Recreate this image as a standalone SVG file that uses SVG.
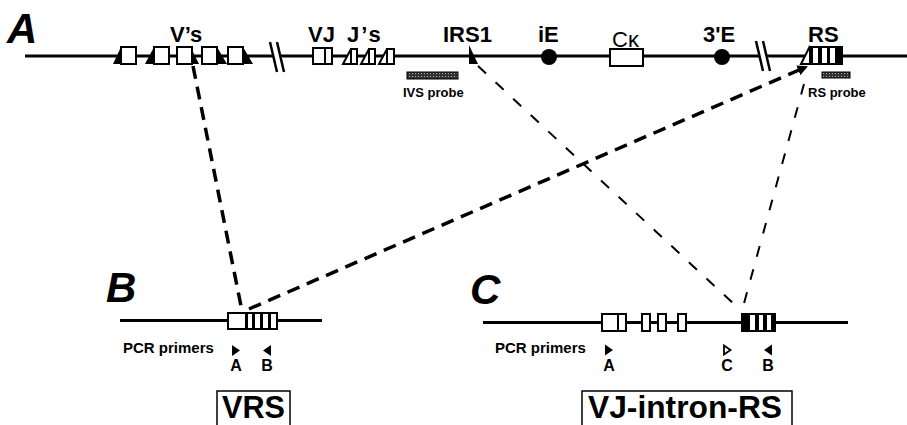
<svg xmlns="http://www.w3.org/2000/svg" width="907" height="425" viewBox="0 0 907 425">
<defs>
<pattern id="hatch" width="3" height="3" patternUnits="userSpaceOnUse">
<rect width="3" height="3" fill="#333"/>
<rect x="1" y="1" width="1" height="1" fill="#aaa"/>
</pattern>
<marker id="arr" viewBox="0 0 10 10" refX="8" refY="5" markerWidth="3" markerHeight="3" orient="auto">
<path d="M0,0 L10,5 L0,10 z" fill="#000"/>
</marker>
</defs>
<style>
text{font-family:"Liberation Sans",Arial,sans-serif;fill:#000}
.big{font-size:42px;font-weight:bold;font-style:italic}
.lab{font-size:22px;font-weight:bold}
.probe{font-size:13px;font-weight:bold}
.pcr{font-size:15px;font-weight:bold}
.pl{font-size:16px;font-weight:bold;text-anchor:middle}
.title{font-size:32px;font-weight:bold}
.dna{stroke:#000;stroke-width:3;fill:none}
.box{fill:#fff;stroke:#000;stroke-width:2}
.blk{fill:#000;stroke:none}
.brk{stroke:#000;stroke-width:2.5}
.thick{stroke:#000;stroke-width:3.5;fill:none;stroke-dasharray:13 8}
.thin{stroke:#000;stroke-width:2;fill:none;stroke-dasharray:11 13}
.tbox{fill:none;stroke:#000;stroke-width:1.5}
</style>
<rect width="907" height="425" fill="#fff"/>

<g id="panelA">
<text class="big" x="7" y="43">A</text>
<line class="dna" x1="25" y1="56" x2="907" y2="56"/>
</g>

<g id="Vs">
<text class="lab" x="170" y="42">V’s</text>
<polygon class="blk" points="121,47 121,64 113,64"/>
<rect class="box" x="121" y="47" width="15" height="17"/>
<polygon class="blk" points="154,47 154,64 145,64"/>
<rect class="box" x="154" y="47" width="15" height="17"/>
<polygon class="blk" points="192,50 192,64 199,64"/>
<rect class="box" x="177" y="47" width="15" height="17"/>
<polygon class="blk" points="217,47 217,64 227,64"/>
<rect class="box" x="202" y="47" width="15" height="17"/>
<polygon class="blk" points="243,47 243,64 253,64"/>
<rect class="box" x="228" y="47" width="15" height="17"/>
</g>

<g id="break1">
<line x1="270" y1="48" x2="284" y2="64" stroke="#fff" stroke-width="6"/>
<line class="brk" x1="270" y1="42" x2="277" y2="72"/>
<line class="brk" x1="277" y1="42" x2="284" y2="72"/>
</g>

<g id="VJ">
<text class="lab" x="308" y="42">VJ</text>
<rect class="box" x="313" y="48" width="19" height="16"/>
<line x1="325" y1="48" x2="325" y2="64" stroke="#000" stroke-width="2"/>
</g>

<g id="Js">
<text class="lab" x="347" y="42" letter-spacing="2">J’s</text>
<polygon class="box" points="343,64 351,49 351,64"/>
<rect class="box" x="351" y="49" width="6" height="15"/>
<polygon class="box" points="361,64 369,49 369,64"/>
<rect class="box" x="369" y="49" width="6" height="15"/>
<polygon class="box" points="379,64 387,49 387,64"/>
<rect class="box" x="387" y="49" width="7" height="15"/>
</g>

<g id="IVSprobe">
<rect x="407" y="72" width="51" height="7" fill="url(#hatch)" stroke="#000" stroke-width="1"/>
<text class="probe" x="403" y="97">IVS probe</text>
</g>

<g id="IRS1">
<text class="lab" x="443" y="42">IRS1</text>
<polygon class="blk" points="469,45 469,64 478,64"/>
</g>

<g id="iE">
<text class="lab" x="538" y="42">iE</text>
<circle cx="549" cy="57" r="8" fill="#000"/>
</g>

<g id="Ck">
<text x="612" y="47" font-size="22">Cκ</text>
<rect class="box" x="610" y="49" width="33" height="17"/>
</g>

<g id="E3">
<text class="lab" x="703" y="42">3'E</text>
<circle cx="722" cy="57" r="8" fill="#000"/>
</g>

<g id="break2">
<line x1="756" y1="48" x2="770" y2="64" stroke="#fff" stroke-width="6"/>
<line class="brk" x1="756" y1="41" x2="763" y2="71"/>
<line class="brk" x1="763" y1="41" x2="770" y2="71"/>
</g>

<g id="RS">
<text class="lab" x="808" y="42">RS</text>
<polygon class="box" points="801,64 810,46 810,64"/>
<rect class="box" x="810" y="47" width="32" height="17"/>
<rect class="blk" x="810" y="47" width="3" height="17"/>
<rect class="blk" x="818" y="47" width="4" height="17"/>
<rect class="blk" x="827" y="47" width="3" height="17"/>
<rect class="blk" x="835" y="47" width="7" height="17"/>
</g>

<g id="RSprobe">
<rect x="822" y="72" width="28" height="6" fill="url(#hatch)" stroke="#000" stroke-width="1"/>
<text class="probe" x="808" y="97">RS probe</text>
</g>

<g id="panelB">
<text class="big" x="106" y="302">B</text>
<line class="dna" x1="120" y1="320.5" x2="322" y2="320.5" stroke-width="2.5"/>
<rect class="box" x="228" y="313" width="49" height="16"/>
<rect class="blk" x="245" y="313" width="3" height="16"/>
<rect class="blk" x="252" y="313" width="3" height="16"/>
<rect class="blk" x="260" y="313" width="3" height="16"/>
<rect class="blk" x="268" y="313" width="3" height="16"/>
<text class="pcr" x="123" y="353">PCR primers</text>
<polygon class="blk" points="232,345 232,356 240,350.5"/>
<polygon class="blk" points="271,345 271,356 263,350.5"/>
<text class="pl" x="236" y="371">A</text>
<text class="pl" x="267" y="371">B</text>
<rect class="tbox" x="217" y="391" width="73" height="50"/>
<text class="title" x="222" y="418" textLength="63" lengthAdjust="spacingAndGlyphs">VRS</text>
</g>

<g id="panelC">
<text class="big" x="470" y="304">C</text>
<line class="dna" x1="483" y1="322.5" x2="848" y2="322.5" stroke-width="2.5"/>
<rect class="box" x="602" y="314" width="24" height="17"/>
<line x1="618" y1="314" x2="618" y2="331" stroke="#000" stroke-width="2"/>
<rect class="box" x="642" y="314" width="8" height="17"/>
<rect class="box" x="658" y="314" width="8" height="17"/>
<rect class="box" x="678" y="314" width="8" height="17"/>
<rect class="box" x="742" y="314" width="33" height="17"/>
<rect class="blk" x="742" y="314" width="8" height="17"/>
<rect class="blk" x="755" y="314" width="4" height="17"/>
<rect class="blk" x="763" y="314" width="4" height="17"/>
<rect class="blk" x="771" y="314" width="4" height="17"/>
<text class="pcr" x="495" y="353">PCR primers</text>
<polygon class="blk" points="605,344.5 605,355.5 613,350"/>
<polygon points="724,345.5 724,354.5 730.5,350" fill="#fff" stroke="#000" stroke-width="1.8"/>
<polygon class="blk" points="772,344.5 772,355.5 764,350"/>
<text class="pl" x="609" y="371">A</text>
<text class="pl" x="727" y="371">C</text>
<text class="pl" x="768" y="371">B</text>
<rect class="tbox" x="582" y="391" width="210" height="50"/>
<text class="title" x="588" y="418" textLength="194" lengthAdjust="spacingAndGlyphs">VJ-intron-RS</text>
</g>

<g id="connectors">
<path class="thick" d="M193,66 L242,311"/>
<path class="thick" d="M249,309 L806,67" marker-end="url(#arr)"/>
<path class="thin" d="M478,66 L736,306"/>
<path class="thin" d="M804,84 L743,307"/>
</g>
</svg>
